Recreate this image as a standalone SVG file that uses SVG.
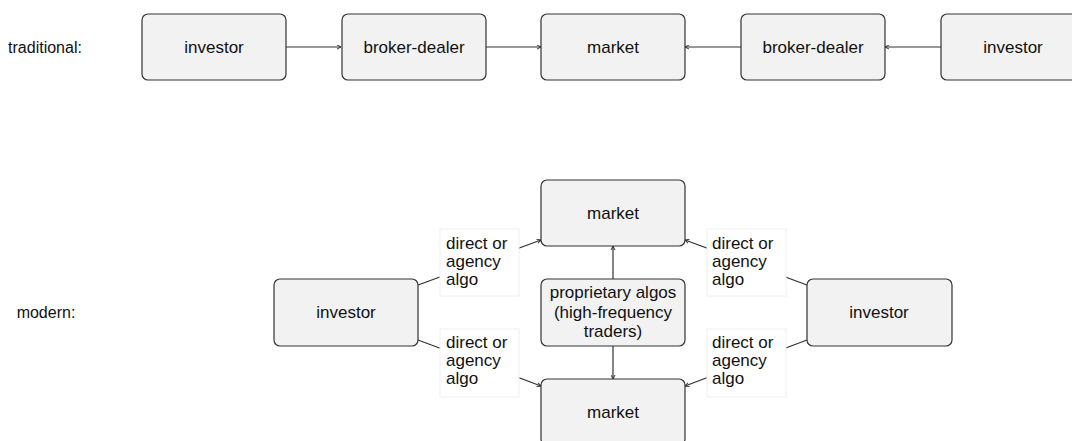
<svg xmlns="http://www.w3.org/2000/svg" width="1072" height="441" viewBox="0 0 1072 441">
<defs>
<style>
.box{fill:#f2f2f2;stroke:#333;stroke-width:1.2}
.lbl{fill:#fff;stroke:#f0f0f0;stroke-width:1}
.t{font-family:"Liberation Sans",Arial,Helvetica,sans-serif;font-size:17px;fill:#111}
.h{font-size:16px}
.c{text-anchor:middle}
.ln{stroke:#333;stroke-width:1.2;fill:none}
.arr{marker-end:url(#ah)}
</style>
<marker id="ah" viewBox="0 0 10 10" refX="9" refY="5" markerWidth="5" markerHeight="5" orient="auto" markerUnits="userSpaceOnUse">
<path d="M1,1 L9,5 L1,9" fill="none" stroke="#333" stroke-width="2"/>
</marker>
</defs>
<rect width="1072" height="441" fill="#fff"/>
<text class="t h" x="45" y="53" text-anchor="middle">traditional:</text>
<text class="t h" x="46" y="318" text-anchor="middle">modern:</text>

<g id="connectors">
<line class="ln arr" x1="286" y1="47" x2="341" y2="47"/>
<line class="ln arr" x1="486" y1="47" x2="541" y2="47"/>
<line class="ln arr" x1="741" y1="47" x2="685" y2="47"/>
<line class="ln arr" x1="941" y1="47" x2="885" y2="47"/>
<line class="ln arr" x1="613" y1="279" x2="613" y2="246"/>
<line class="ln arr" x1="613" y1="346" x2="613" y2="379"/>
<line class="ln arr" x1="418" y1="285" x2="541" y2="240"/>
<line class="ln arr" x1="418" y1="340" x2="541" y2="386"/>
<line class="ln arr" x1="807" y1="285" x2="685" y2="240"/>
<line class="ln arr" x1="807" y1="340" x2="685" y2="386"/>
</g>

<g id="n-investor1"><rect class="box" x="142" y="14" width="144" height="66" rx="6"/><text class="t c" x="214" y="53">investor</text></g>
<g id="n-broker1"><rect class="box" x="342" y="14" width="144" height="66" rx="6"/><text class="t c" x="414" y="53">broker-dealer</text></g>
<g id="n-market1"><rect class="box" x="541" y="14" width="144" height="66" rx="6"/><text class="t c" x="613" y="53">market</text></g>
<g id="n-broker2"><rect class="box" x="741" y="14" width="144" height="66" rx="6"/><text class="t c" x="813" y="53">broker-dealer</text></g>
<g id="n-investor2"><rect class="box" x="941" y="14" width="144" height="66" rx="6"/><text class="t c" x="1013" y="53">investor</text></g>

<g id="n-market-top"><rect class="box" x="541" y="180" width="144" height="66" rx="6"/><text class="t c" x="613" y="219">market</text></g>
<g id="n-prop"><rect class="box" x="541" y="279" width="144" height="67" rx="6"/><text class="t c" x="613" y="298">proprietary algos</text><text class="t c" x="613" y="318">(high-frequency</text><text class="t c" x="613" y="337">traders)</text></g>
<g id="n-market-bottom"><rect class="box" x="541" y="379" width="144" height="66" rx="6"/><text class="t c" x="613" y="418">market</text></g>
<g id="n-investor-left"><rect class="box" x="274" y="279" width="144" height="67" rx="6"/><text class="t c" x="346" y="318">investor</text></g>
<g id="n-investor-right"><rect class="box" x="807" y="279" width="145" height="67" rx="6"/><text class="t c" x="879" y="318">investor</text></g>

<g id="l-lt"><rect class="lbl" x="440" y="229" width="79" height="67"/><text class="t" x="446" y="249">direct or</text><text class="t" x="446" y="267">agency</text><text class="t" x="446" y="285">algo</text></g>
<g id="l-lb"><rect class="lbl" x="440" y="329" width="79" height="68"/><text class="t" x="446" y="348">direct or</text><text class="t" x="446" y="366">agency</text><text class="t" x="446" y="384">algo</text></g>
<g id="l-rt"><rect class="lbl" x="707" y="229" width="79" height="67"/><text class="t" x="712" y="249">direct or</text><text class="t" x="712" y="267">agency</text><text class="t" x="712" y="285">algo</text></g>
<g id="l-rb"><rect class="lbl" x="707" y="329" width="79" height="68"/><text class="t" x="712" y="348">direct or</text><text class="t" x="712" y="366">agency</text><text class="t" x="712" y="384">algo</text></g>
</svg>
